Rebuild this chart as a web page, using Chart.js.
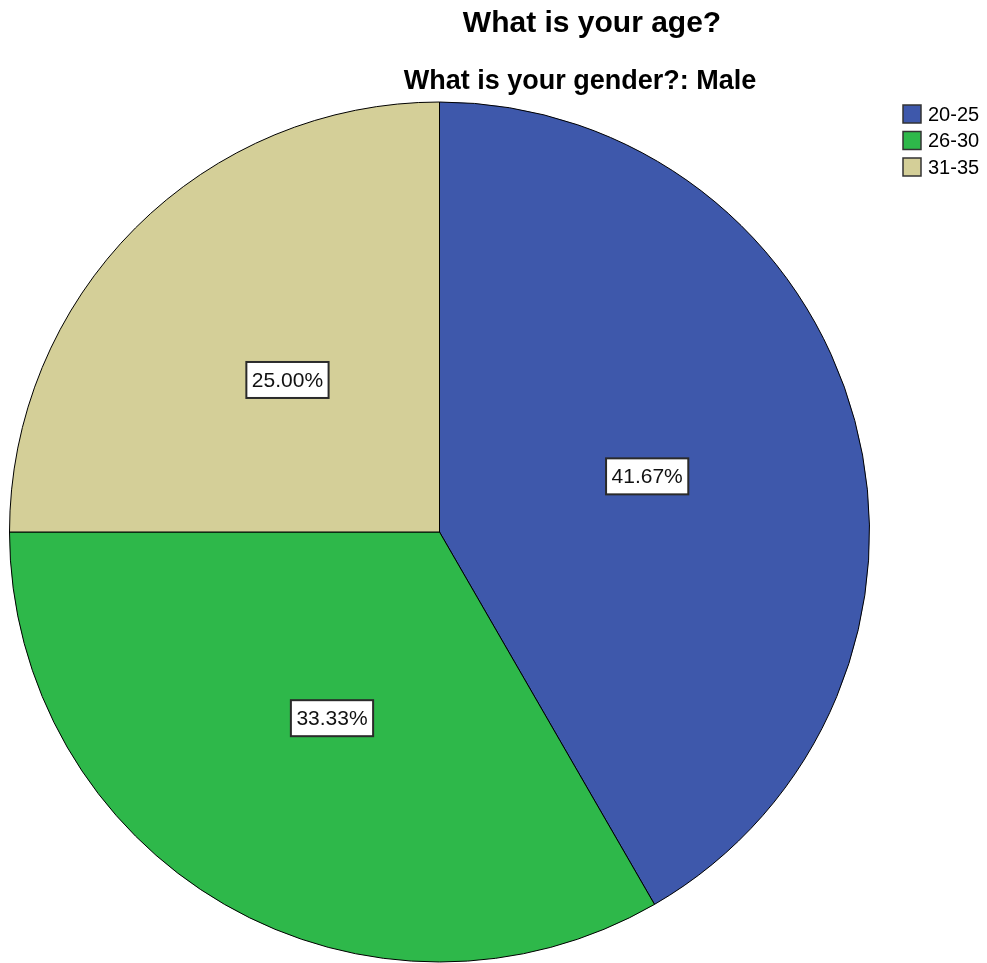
<!DOCTYPE html>
<html>
<head>
<meta charset="utf-8">
<script src="https://cdn.jsdelivr.net/npm/chart.js@4"></script>
<style>
    html, body { margin: 0; padding: 0; background: #fff; }
    #wrap { width: 987px; height: 963px; position: relative; }
</style>
</head>
<body>
<div id="wrap"><canvas id="age-pie"></canvas></div>
<script>
// Daten
const ageGroups = ['20-25', '26-30', '31-35'];
const counts = [5, 4, 3];
const sliceColors = ['#3e58ab', '#2eb84a', '#d4cf98'];
const titleText = 'What is your age?';
const subtitleText = 'What is your gender?: Male';

const fontFamily = '"Liberation Sans", Arial, sans-serif';

// Titel, Legende und Prozent-Boxen selbst zeichnen
const decorations = {
    id: 'decorations',
    afterDraw(chart) {
        const ctx = chart.ctx;
        const total = counts.reduce((a, b) => a + b, 0);
        ctx.save();

        // Titel
        ctx.fillStyle = '#000';
        ctx.textAlign = 'center';
        ctx.textBaseline = 'alphabetic';
        ctx.font = 'bold 30px ' + fontFamily;
        ctx.fillText(titleText, 592, 32);
        ctx.font = 'bold 27px ' + fontFamily;
        ctx.fillText(subtitleText, 580, 89);

        // Legende
        ctx.textAlign = 'left';
        ctx.textBaseline = 'middle';
        ctx.font = '20px ' + fontFamily;
        ageGroups.forEach((label, i) => {
            const y = 105 + i * 26.5;
            ctx.fillStyle = sliceColors[i];
            ctx.fillRect(903, y, 18, 18);
            ctx.strokeStyle = '#333';
            ctx.lineWidth = 1.5;
            ctx.strokeRect(903, y, 18, 18);
            ctx.fillStyle = '#000';
            ctx.fillText(label, 928, y + 10);
        });

        // Prozent-Boxen
        const meta = chart.getDatasetMeta(0);
        ctx.font = '21px ' + fontFamily;
        ctx.textAlign = 'center';
        meta.data.forEach((arc, i) => {
            const pos = arc.tooltipPosition();
            const text = (counts[i] / total * 100).toFixed(2) + '%';
            const w = ctx.measureText(text).width + 11;
            const h = 36;
            ctx.fillStyle = '#fff';
            ctx.fillRect(pos.x - w / 2, pos.y - h / 2, w, h);
            ctx.strokeStyle = '#2a2a2a';
            ctx.lineWidth = 2;
            ctx.strokeRect(pos.x - w / 2, pos.y - h / 2, w, h);
            ctx.fillStyle = '#111';
            ctx.fillText(text, pos.x, pos.y + 1);
        });
        ctx.restore();
    }
};

const pie = document.getElementById('age-pie');
new Chart(pie, {
    type: 'pie',
    data: {
        labels: ageGroups,
        datasets: [{
            data: counts,
            backgroundColor: sliceColors,
            borderColor: '#000',
            borderWidth: 1
        }]
    },
    options: {
        responsive: true,
        maintainAspectRatio: false,
        animation: false,
        layout: {
            padding: { left: 9, right: 117, top: 101, bottom: 0 }
        },
        plugins: {
            legend: { display: false },
            tooltip: { enabled: false }
        }
    },
    plugins: [decorations]
});
</script>
</body>
</html>
